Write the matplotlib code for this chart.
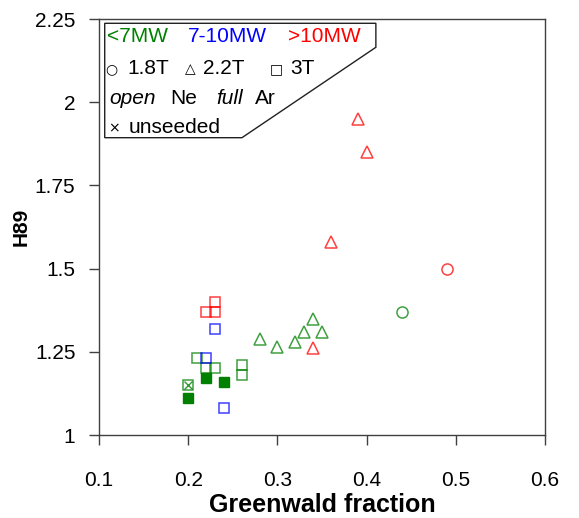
"""
H89 confinement factor versus Greenwald fraction.
"""
import matplotlib
matplotlib.use("Agg")
import matplotlib.pyplot as plt
from matplotlib.patches import Polygon
from matplotlib.ticker import FuncFormatter

plt.rcParams["font.family"] = ["Liberation Sans", "DejaVu Sans"]

GREEN, BLUE, RED = "#008000", "#0000ff", "#ff0000"

# <7MW, 2.2T, Ne (open)
gf_lo_22 = [0.28, 0.30, 0.32, 0.33, 0.34, 0.35]
h_lo_22 = [1.29, 1.265, 1.28, 1.31, 1.35, 1.31]
# <7MW, 1.8T, Ne
gf_lo_18 = [0.44]
h_lo_18 = [1.37]
# <7MW, 3T, Ne
gf_lo_3 = [0.21, 0.22, 0.23, 0.26, 0.26, 0.20]
h_lo_3 = [1.23, 1.20, 1.20, 1.21, 1.18, 1.15]
# <7MW, 3T, Ar (full)
gf_lo_3ar = [0.22, 0.24, 0.20]
h_lo_3ar = [1.17, 1.16, 1.11]
# unseeded
gf_unseeded = [0.20]
h_unseeded = [1.15]
# 7-10MW, 3T
gf_mid_3 = [0.22, 0.23, 0.24]
h_mid_3 = [1.23, 1.32, 1.08]
# >10MW, 3T
gf_hi_3 = [0.22, 0.23, 0.23]
h_hi_3 = [1.37, 1.37, 1.40]
# >10MW, 2.2T
gf_hi_22 = [0.39, 0.40, 0.36, 0.34]
h_hi_22 = [1.95, 1.85, 1.58, 1.26]
# >10MW, 1.8T
gf_hi_18 = [0.49]
h_hi_18 = [1.50]

xticks = [0.1, 0.2, 0.3, 0.4, 0.5, 0.6]
yticks = [1, 1.25, 1.5, 1.75, 2, 2.25]

fig = plt.figure(figsize=(5.79, 5.18), dpi=100)
ax = fig.add_axes([0.171, 0.1602, 0.770, 0.8031])


def open_pts(x, y, marker, color, ms):
    ax.plot(x, y, linestyle="none", marker=marker, ms=ms, mfc="none",
            mec=color, mew=1.1, alpha=0.75)


open_pts(gf_lo_22, h_lo_22, "^", GREEN, 8.5)
open_pts(gf_lo_18, h_lo_18, "o", GREEN, 8)
open_pts(gf_lo_3, h_lo_3, "s", GREEN, 7.2)
ax.plot(gf_lo_3ar, h_lo_3ar, linestyle="none", marker="s", ms=7.2,
        mfc=GREEN, mec=GREEN, mew=1)
ax.plot(gf_unseeded, h_unseeded, linestyle="none", marker="x", ms=6,
        mec=GREEN, mew=1, alpha=0.8)
open_pts(gf_mid_3, h_mid_3, "s", BLUE, 7.2)
open_pts(gf_hi_3, h_hi_3, "s", RED, 7.2)
open_pts(gf_hi_22, h_hi_22, "^", RED, 8.5)
open_pts(gf_hi_18, h_hi_18, "o", RED, 8)

ax.set_xlim(0.1, 0.6)
ax.set_ylim(1, 2.25)
ax.set_xticks(xticks)
ax.set_yticks(yticks)
ax.xaxis.set_major_formatter(FuncFormatter(lambda v, p: f"{v:g}"))
ax.yaxis.set_major_formatter(FuncFormatter(lambda v, p: f"{v:g}"))
ax.tick_params(direction="out", length=7, width=1, labelsize=15,
               color="#404040")
ax.tick_params(axis="x", pad=19)
ax.tick_params(axis="y", pad=10)
for s in ax.spines.values():
    s.set_color("#404040")
    s.set_linewidth(1)

ax.set_xlabel("Greenwald fraction", fontsize=18, fontweight="bold",
              labelpad=2)
ax.set_ylabel("H89", fontsize=15, fontweight="bold", labelpad=3)

# legend box with cut corner
box = Polygon([(0.0128, 0.9897), (0.621, 0.9897), (0.621, 0.932),
               (0.3206, 0.7147), (0.0128, 0.7147)], closed=True,
              transform=ax.transAxes, facecolor="white", edgecolor="#202020",
              linewidth=1, zorder=5)
ax.add_patch(box)

fs = 15
kw = dict(transform=ax.transAxes, fontsize=fs, va="center", ha="left",
          zorder=6)
sym = dict(transform=ax.transAxes, fontsize=10, va="center", ha="left",
           zorder=6, family="DejaVu Sans")
ax.text(0.018, 0.957, "<7MW", color=GREEN, **kw)
ax.text(0.1996, 0.957, "7-10MW", color=BLUE, **kw)
ax.text(0.424, 0.957, ">10MW", color=RED, **kw)

ax.text(0.013, 0.880, "\u25cb", **sym)
ax.text(0.064, 0.882, "1.8T", **kw)
ax.text(0.192, 0.880, "\u25b3", **sym)
ax.text(0.233, 0.882, "2.2T", **kw)
ax.text(0.383, 0.880, "\u25a1", **sym)
ax.text(0.428, 0.882, "3T", **kw)

ax.text(0.022, 0.810, "open", style="italic", **kw)
ax.text(0.159, 0.810, "Ne", **kw)
ax.text(0.262, 0.810, "full", style="italic", **kw)
ax.text(0.350, 0.810, "Ar", **kw)

ax.text(0.020, 0.738, "\u00d7", **sym)
ax.text(0.067, 0.740, "unseeded", **kw)

fig.savefig("out.png", dpi=100)
